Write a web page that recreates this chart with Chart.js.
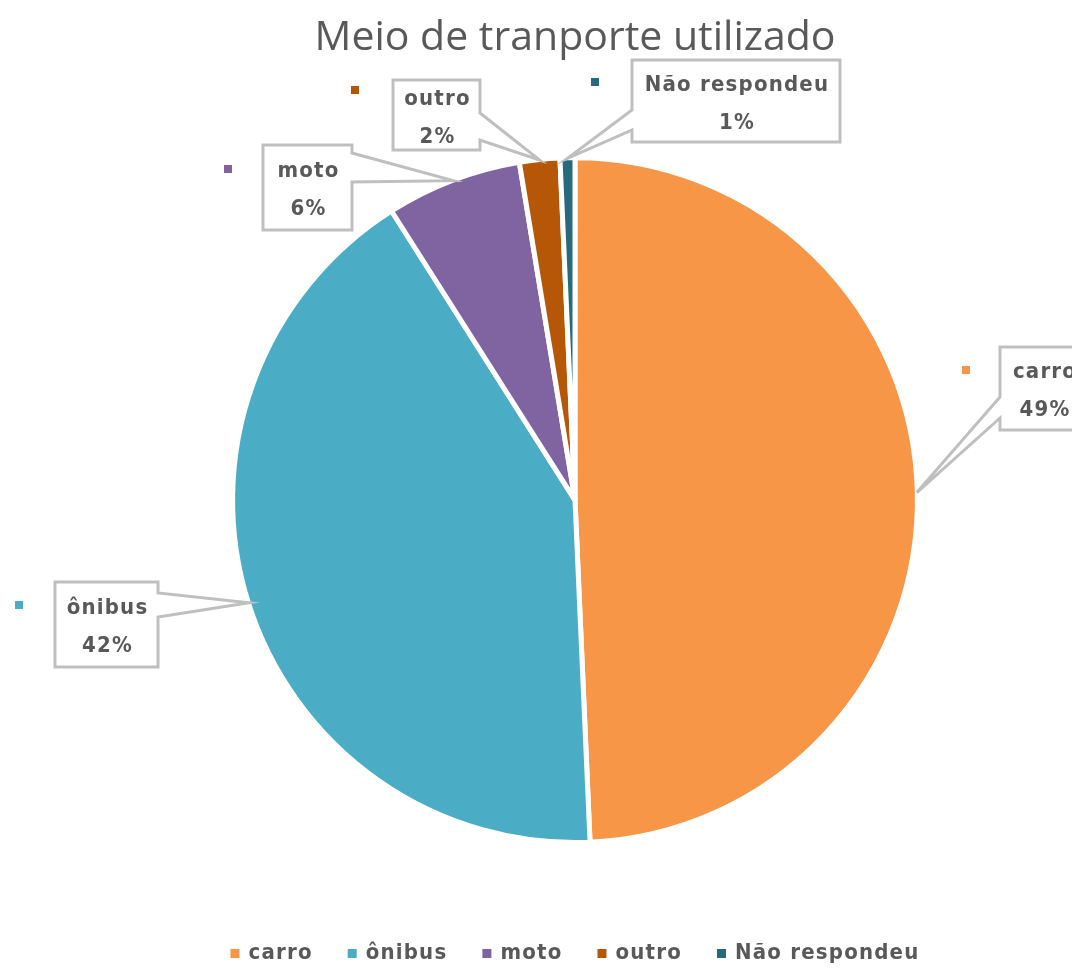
<!DOCTYPE html>
<html lang="pt-BR">
<head>
<meta charset="utf-8">
<title>Meio de tranporte utilizado</title>
<script src="https://cdn.jsdelivr.net/npm/chart.js@4.4.1/dist/chart.umd.min.js"></script>
<style>
  html, body { margin: 0; padding: 0; background: #fff; }
  #wrap { position: relative; width: 1072px; height: 974px; }
</style>
</head>
<body>
<div id="wrap"><canvas id="chart"></canvas></div>
<script>
const chartTitle = 'Meio de tranporte utilizado'
const categories = ['carro', 'ônibus', 'moto', 'outro', 'Não respondeu']
const shares = [49.3, 41.7, 6.4, 1.9, 0.7]
const sliceColors = ['#F79646', '#4BACC6', '#8064A2', '#B65708', '#276A7C']

const textGray = '#595959'
const boxGray = '#BFBFBF'
const labelFont = 'bold 22px "DejaVu Sans Condensed", "DejaVu Sans", sans-serif'
const labelSpacing = '1.2px'
const sliceBorder = 5

// where each callout box sits; b1/b2 = where the pointer leaves the box side
const callouts = [
    { x: 1000, y: 347, w: 88, h: 83, side: 'left', b1: 397, b2: 418, mx: 966, my: 370 },
    { x: 55, y: 582, w: 103, h: 85, side: 'right', b1: 593, b2: 617, mx: 19, my: 605 },
    { x: 263, y: 145, w: 89, h: 85, side: 'right', b1: 153, b2: 182, mx: 228, my: 169 },
    { x: 393, y: 80, w: 87, h: 70, side: 'right', b1: 113, b2: 140, mx: 355, my: 90 },
    { x: 632, y: 60, w: 208, h: 82, side: 'left', b1: 110, b2: 130, mx: 595, my: 82 },
]

const total = shares.reduce((a, b) => a + b, 0)
const pct = v => Math.round(v / total * 100) + '%'

const calloutPlugin = {
    id: 'callouts',
    afterDatasetsDraw(chart) {
        const ctx = chart.ctx
        const arcs = chart.getDatasetMeta(0).data
        ctx.save()
        arcs.forEach((arc, i) => {
            const c = callouts[i]
            const p = arc.getProps(['x', 'y', 'startAngle', 'endAngle', 'outerRadius'], true)
            const mid = (p.startAngle + p.endAngle) / 2
            const r = p.outerRadius - sliceBorder / 2 + 2
            const tx = p.x + Math.cos(mid) * r
            const ty = p.y + Math.sin(mid) * r

            ctx.beginPath()
            if (c.side === 'left') {
                ctx.moveTo(c.x, c.y)
                ctx.lineTo(c.x + c.w, c.y)
                ctx.lineTo(c.x + c.w, c.y + c.h)
                ctx.lineTo(c.x, c.y + c.h)
                ctx.lineTo(c.x, c.b2)
                ctx.lineTo(tx, ty)
                ctx.lineTo(c.x, c.b1)
            } else {
                ctx.moveTo(c.x, c.y)
                ctx.lineTo(c.x + c.w, c.y)
                ctx.lineTo(c.x + c.w, c.b1)
                ctx.lineTo(tx, ty)
                ctx.lineTo(c.x + c.w, c.b2)
                ctx.lineTo(c.x + c.w, c.y + c.h)
                ctx.lineTo(c.x, c.y + c.h)
            }
            ctx.closePath()
            ctx.fillStyle = '#fff'
            ctx.fill()
            ctx.lineWidth = 3
            ctx.lineJoin = 'miter'
            ctx.strokeStyle = boxGray
            ctx.stroke()

            // small series marker to the left of the box
            ctx.fillStyle = sliceColors[i]
            ctx.fillRect(c.mx - 4, c.my - 4, 8, 8)

            ctx.font = labelFont
            ctx.letterSpacing = labelSpacing
            ctx.fillStyle = textGray
            ctx.textAlign = 'center'
            ctx.textBaseline = 'middle'
            const cx = c.x + c.w / 2 + 1
            const cy = c.y + c.h / 2
            ctx.fillText(categories[i], cx, cy - 16)
            ctx.fillText(pct(shares[i]), cx, cy + 22)
        })
        ctx.restore()
    },
    afterDraw(chart) {
        // legend row under the pie, centred on the plot area
        const ctx = chart.ctx
        const area = chart.chartArea
        ctx.save()
        ctx.font = labelFont
        ctx.letterSpacing = labelSpacing
        ctx.textBaseline = 'middle'
        ctx.textAlign = 'left'
        const box = 9, gapIn = 9, gapOut = 35
        const widths = categories.map(t => ctx.measureText(t).width)
        const full = widths.reduce((a, w) => a + box + gapIn + w, 0) + gapOut * (categories.length - 1)
        let x = (area.left + area.right) / 2 - full / 2
        const y = 953
        categories.forEach((t, i) => {
            ctx.fillStyle = sliceColors[i]
            ctx.fillRect(x, y - 4, box, box)
            x += box + gapIn
            ctx.fillStyle = textGray
            ctx.fillText(t, x, y)
            x += widths[i] + gapOut
        })
        ctx.restore()
    },
}

new Chart(document.getElementById('chart'), {
    type: 'pie',
    data: {
        labels: categories,
        datasets: [{
            data: shares,
            backgroundColor: sliceColors,
            borderColor: '#fff',
            borderWidth: sliceBorder,
        }],
    },
    options: {
        responsive: true,
        maintainAspectRatio: false,
        animation: false,
        layout: { padding: { left: 230, right: 152, top: 0, bottom: 129 } },
        plugins: {
            legend: { display: false },
            tooltip: { enabled: false },
            title: {
                display: true,
                text: chartTitle,
                color: textGray,
                font: { family: '"Open Sans", sans-serif', size: 41, weight: 'normal', lineHeight: 1.2 },
                padding: { top: 14, bottom: 92 },
            },
        },
    },
    plugins: [calloutPlugin],
})
</script>
</body>
</html>
